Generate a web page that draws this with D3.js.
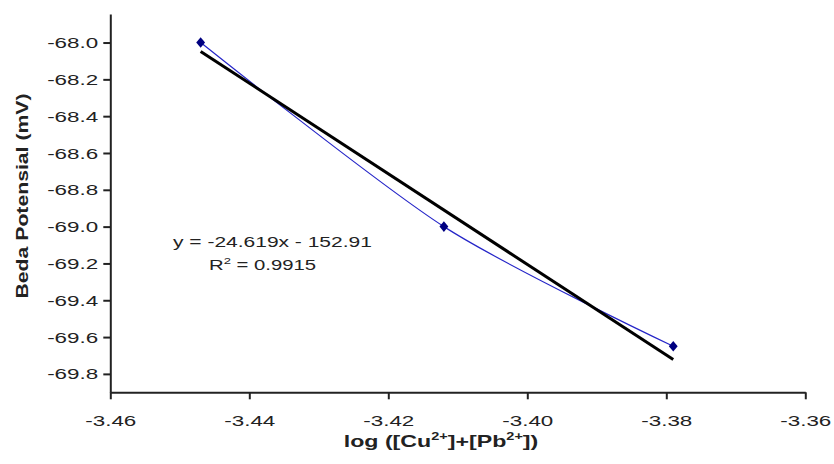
<!DOCTYPE html>
<html><head><meta charset="utf-8">
<script src="https://cdn.jsdelivr.net/npm/d3@7"></script>
<style>
body{margin:0;background:#fff}
svg{display:block;background:#fff}
text{font-family:"Liberation Sans",Arial,sans-serif;fill:#222}
</style>
</head><body>
<svg id="c" width="834" height="464"></svg>
<script>
// ---- data ----
const xValues = [-3.447, -3.412, -3.379];
const yValues = [-68.0, -69.0, -69.65];
const xTicks = [-3.46, -3.44, -3.42, -3.40, -3.38, -3.36];
const xTickLabels = ["-3.46", "-3.44", "-3.42", "-3.40", "-3.38", "-3.36"];
const yTicks = [-68.0, -68.2, -68.4, -68.6, -68.8, -69.0, -69.2, -69.4, -69.6, -69.8];
const yTickLabels = ["-68.0", "-68.2", "-68.4", "-68.6", "-68.8", "-69.0", "-69.2", "-69.4", "-69.6", "-69.8"];
const trendSlope = -24.619;
const trendIntercept = -152.91;
const equationText = "y = -24.619x - 152.91";
const r2Value = "0.9915";
const yTitle = "Beda Potensial (mV)";

// ---- layout ----
const svg = d3.select("#c");
const x = d3.scaleLinear().domain([-3.46, -3.36]).range([110.3, 805.3]);
const y = d3.scaleLinear().domain([-69.9, -67.845]).range([392.3, 14]);
const SX = 1.6;

// axes
const gy = svg.append("g").attr("transform", `translate(${x.range()[0]},0)`)
  .call(d3.axisLeft(y).tickValues(yTicks).tickFormat((d, i) => yTickLabels[i]).tickSize(7).tickSizeOuter(0));
const gx = svg.append("g").attr("transform", `translate(0,${y.range()[0]})`)
  .call(d3.axisBottom(x).tickValues(xTicks).tickFormat((d, i) => xTickLabels[i]).tickSize(7).tickSizeOuter(0));

[gy, gx].forEach(g => {
  g.select(".domain").attr("stroke", "#222").attr("stroke-width", 2);
  g.selectAll(".tick line").attr("stroke", "#222").attr("stroke-width", 2);
  g.selectAll(".tick text").style("font-size", "14px").style("fill", "#222").attr("font-family", null);
});
gy.selectAll(".tick text").attr("x", -7.6).attr("dy", "0.36em").attr("transform", `scale(${SX},1)`);
gx.selectAll(".tick text").attr("dy", null).attr("y", 34).attr("transform", `scale(${SX},1)`);

// smoothed data line
const line = d3.line().x((d, i) => x(xValues[i])).y(d => y(d)).curve(d3.curveCardinal.tension(0.2));
svg.append("path").datum(yValues).attr("d", line)
  .attr("fill", "none").attr("stroke", "#2525c8").attr("stroke-width", 1.2);

// trendline
const tx = d3.extent(xValues);
svg.append("line")
  .attr("x1", x(tx[0])).attr("y1", y(trendSlope * tx[0] + trendIntercept))
  .attr("x2", x(tx[1])).attr("y2", y(trendSlope * tx[1] + trendIntercept))
  .attr("stroke", "#000").attr("stroke-width", 3);

// markers
svg.selectAll(".pt").data(yValues).enter().append("path")
  .attr("transform", (d, i) => `translate(${x(xValues[i])},${y(d)}) scale(1.3,0.9)`)
  .attr("d", d3.symbol().type(d3.symbolDiamond).size(40))
  .attr("fill", "#000080");

// equation
const eq = svg.append("g").attr("transform", `translate(173,247) scale(1.5,1)`);
eq.append("text").style("font-size", "14px").text(equationText);
const r2 = svg.append("g").attr("transform", `translate(209,270) scale(1.45,1)`);
const r2t = r2.append("text").style("font-size", "14px");
r2t.append("tspan").text("R");
r2t.append("tspan").attr("dy", -6).style("font-size", "9px").text("2");
r2t.append("tspan").attr("dy", 6).text(" = " + r2Value);

// y title
svg.append("text")
  .attr("transform", `translate(28,196) rotate(-90)`)
  .attr("text-anchor", "middle")
  .style("font-size", "16px").style("font-weight", "bold")
  .attr("textLength", 205).attr("lengthAdjust", "spacingAndGlyphs")
  .text(yTitle);

// x title
const xt = svg.append("g").attr("transform", `translate(441,447) scale(1.45,1)`);
const xtt = xt.append("text").attr("text-anchor", "middle").style("font-size", "16px").style("font-weight", "bold");
xtt.append("tspan").text("log ([Cu");
xtt.append("tspan").attr("dy", -7).style("font-size", "10px").text("2+");
xtt.append("tspan").attr("dy", 7).text("]+[Pb");
xtt.append("tspan").attr("dy", -7).style("font-size", "10px").text("2+");
xtt.append("tspan").attr("dy", 7).text("])");
</script>
</body></html>
